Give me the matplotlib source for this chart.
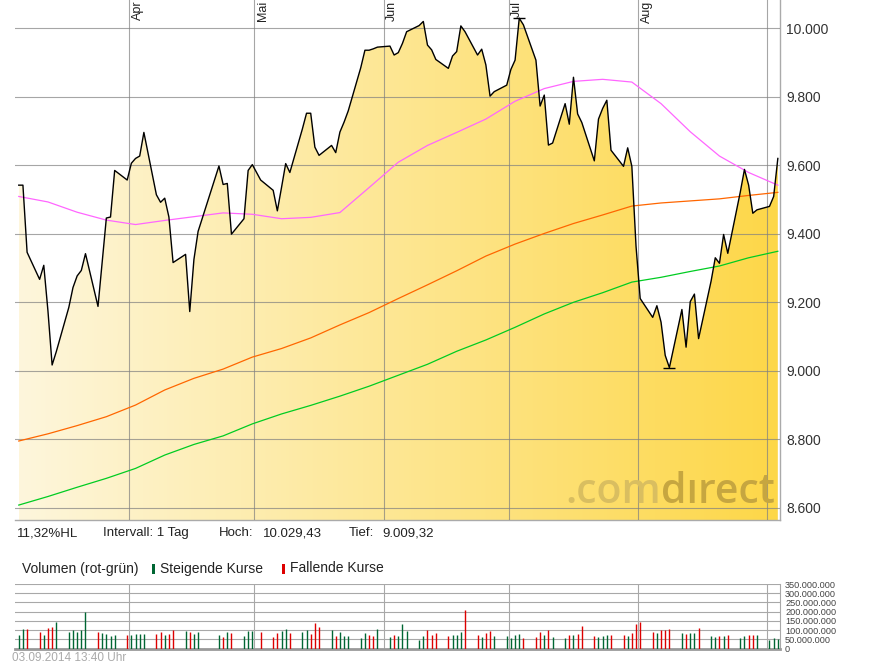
import numpy as np
import pandas as pd
import matplotlib
matplotlib.use('Agg')
import matplotlib.pyplot as plt
import matplotlib.dates as mdates
from matplotlib.colors import LinearSegmentedColormap
from matplotlib.patches import Rectangle

plt.rcParams['font.family'] = ['Liberation Sans', 'DejaVu Sans']

# trading days, Xetra 2014 (closed Apr 18, Apr 21, May 1)
holidays = pd.to_datetime(['2014-04-18', '2014-04-21', '2014-05-01'])
days = pd.bdate_range('2014-03-05', '2014-09-03')
days = days[~days.isin(holidays)]

# daily closes
close = [
    # Mar
    9542, 9542, 9346, 9267, 9308, 9175, 9017, 9056, 9185, 9243, 9277, 9293, 9342, 9188, 9318, 9446, 9449, 9585, 9557,
    # Apr
    9606, 9620, 9627, 9696, 9514, 9492, 9504, 9449, 9316, 9340, 9173, 9325, 9407, 9598, 9544, 9547, 9399, 9444, 9585, 9602,
    # May
    9557, 9527, 9467, 9535, 9605, 9579, 9706, 9752, 9752, 9653, 9629, 9658, 9637, 9697, 9726, 9759, 9885, 9936, 9936, 9940, 9945,
    # Jun
    9948, 9922, 9929, 9956, 9990, 10008, 10020, 9951, 9937, 9909, 9883, 9919, 9932, 10007, 9990, 9922, 9939, 9893, 9802, 9815, 9834,
    # Jul
    9880, 9907, 10029.43, 10010, 9907, 9773, 9805, 9659, 9665, 9780, 9720, 9857, 9750, 9725, 9613, 9735, 9766, 9790, 9644, 9597, 9651, 9597, 9364,
    # Aug
    9211, 9156, 9190, 9142, 9045, 9009.32, 9179, 9069, 9202, 9224, 9094, 9262, 9330, 9314, 9398, 9343, 9522, 9588, 9542, 9460, 9470,
    # Sep
    9480, 9509, 9620,
]

# volume in millions
volume = [
    74, 106, 106, 92, 74, 114, 119, 146, 92, 101, 92, 101, 200, 92, 83, 79, 69, 74, 74,
    74, 79, 79, 79, 79, 92, 74, 79, 101, 97, 92, 79, 90, 74, 63, 90, 83, 69, 96, 96,
    92, 63, 87, 97, 108, 83, 92, 101, 79, 139, 117, 101, 69, 90, 69, 69, 58, 83, 74, 69, 106,
    63, 74, 69, 134, 97, 47, 69, 101, 74, 85, 69, 74, 74, 90, 209, 74, 63, 85, 96, 69, 69,
    58, 74, 79, 58, 63, 90, 74, 101, 63, 58, 74, 74, 79, 123, 69, 63, 69, 74, 74, 74, 69, 85, 134,
    144, 90, 85, 101, 101, 106, 85, 79, 85, 85, 112, 69, 63, 69, 69, 74, 58, 69, 74, 74, 74,
    47, 58, 52,
]
vol_dir = ("ggr rgrrg ggggg rgggg r"
           "gggg rrgrr grgg grgr ggg"
           "r rrggr ggrrr grggg ggrrg"
           "grggg ggrrr rgggr rgrrg g"
           "gggr rrgrg grgrr rgggr rgrr"
           "r rgrrr grggr ggrgr ggrrg"
           "ggg").replace(" ", "")

# moving averages, sampled weekly
ma_dates = pd.date_range('2014-03-05', '2014-09-03', freq='7D')
ma38 = [9509, 9493, 9463, 9440, 9427, 9439, 9450, 9461, 9457, 9444, 9448, 9462, 9535, 9609,
        9658, 9696, 9735, 9787, 9824, 9845, 9851, 9843, 9780, 9698, 9627, 9579, 9542]
ma100 = [8795, 8816, 8840, 8866, 8900, 8944, 8978, 9005, 9040, 9065, 9096, 9134, 9170, 9211,
         9251, 9292, 9335, 9370, 9401, 9430, 9455, 9481, 9490, 9496, 9502, 9512, 9521]
ma200 = [8608, 8633, 8660, 8686, 8715, 8754, 8785, 8810, 8845, 8874, 8899, 8926, 8955, 8987,
         9019, 9057, 9090, 9127, 9166, 9200, 9228, 9259, 9273, 9290, 9306, 9330, 9349]

months = pd.to_datetime(['2014-04-01', '2014-05-01', '2014-06-01', '2014-07-01', '2014-08-01', '2014-09-01'])
month_labels = ['Apr', 'Mai', 'Jun', 'Jul', 'Aug']
price_ticks = np.arange(8600, 10001, 200)
vol_ticks = np.arange(0, 351, 50)

W, H = 895, 669
fig = plt.figure(figsize=(W / 100, H / 100), dpi=100)
ax = fig.add_axes([15 / W, 1 - 520 / H, 764.5 / W, 520 / H])
vx = fig.add_axes([15 / W, 1 - 648.7 / H, 764.5 / W, 64.7 / H])

x = days + pd.Timedelta(hours=12)
mx = ma_dates + pd.Timedelta(hours=12)
apr1 = pd.Timestamp('2014-04-01')
xlim = (apr1 - pd.Timedelta(days=27.4), apr1 + pd.Timedelta(days=155.9))
ymin, ymax = 8564.4, 10082.6

# gradient area under the price line
poly = ax.fill_between(x, close, ymin, color='none', lw=0)
cmap = LinearSegmentedColormap.from_list('fill', ['#fef6dc', '#fdd748'])
grad = np.linspace(0, 1, 256).reshape(1, -1)
im = ax.imshow(grad, cmap=cmap, aspect='auto', zorder=1,
               extent=[mdates.date2num(x[0]), mdates.date2num(x[-1]), ymin, ymax])
im.set_clip_path(poly.get_paths()[0], transform=ax.transData)

ax.plot(mx, ma200, color='#00cc22', lw=0.9, zorder=3)
ax.plot(mx, ma100, color='#ff6600', lw=0.9, zorder=3)
ax.plot(mx, ma38, color='#ff66ff', lw=0.9, zorder=3)
ax.plot(x, close, color='black', lw=1.0, zorder=4)

hi = int(np.argmax(close))
lo = int(np.argmin(close))
ax.plot([x[hi], x[lo]], [close[hi], close[lo]], ls='none', marker='_', ms=8, mew=1, color='black', zorder=5)

ax.set_xlim(xlim)
ax.set_ylim(ymin, ymax)
ax.set_xticks(months)
ax.set_yticks(price_ticks)
ax.set_yticklabels([f'{v:,.0f}'.replace(',', '.') for v in price_ticks])
ax.yaxis.tick_right()
ax.tick_params(axis='y', length=0, pad=5, labelsize=10, labelcolor='#333333')
ax.tick_params(axis='x', length=0, labelbottom=False)
ax.set_axisbelow(False)
ax.grid(True, color='#808080', alpha=0.7, lw=0.8)
for s in ['top', 'left']:
    ax.spines[s].set_visible(False)
for s in ['bottom', 'right']:
    ax.spines[s].set_color('#aaaaaa')
    ax.spines[s].set_linewidth(1)

for m, lab in zip(months, month_labels):
    ax.text(m + pd.Timedelta(days=0.6), 0.999, lab, transform=ax.get_xaxis_transform(),
            rotation=90, ha='left', va='top', fontsize=9, color='#222222')

# logo: fit ".comdırect" into 565..775 px
renderer = fig.canvas.get_renderer()
logo_font = dict(fontsize=36, fontweight='semibold', family=['Open Sans', 'DejaVu Sans'])
probe = fig.text(0, 0, '.comd\u0131rect', **logo_font)
scale = 210 / probe.get_window_extent(renderer).width
probe.remove()
logo_font['fontsize'] = 36 * scale
t_dir = fig.text(775 / W, 1 - 503 / H, 'd\u0131rect', ha='right', va='baseline',
                 color='#c6a640', **logo_font)
left_px = t_dir.get_window_extent(renderer).x0
fig.text(left_px / W, 1 - 503 / H, '.com', ha='right', va='baseline',
         color='#d9be60', **logo_font)

# volume panel
cols = ['#006633' if d == 'g' else '#dd0000' for d in vol_dir]
vx.vlines(x, 0, volume, colors=cols, lw=1.0, zorder=3)
vx.set_xlim(xlim)
vx.set_ylim(0, 350)
vx.set_xticks(months)
vx.set_yticks(vol_ticks)
vx.set_yticklabels([f'{v * 1000000:,.0f}'.replace(',', '.') for v in vol_ticks])
vx.yaxis.tick_right()
vx.tick_params(axis='y', length=0, pad=4, labelsize=6.6, labelcolor='#444444')
vx.tick_params(axis='x', length=0, labelbottom=False)
vx.grid(True, color='#a8a8a8', lw=0.8)
vx.set_axisbelow(True)
for s in ['top', 'left']:
    vx.spines[s].set_visible(False)
vx.spines['right'].set_color('#a8a8a8')
vx.spines['bottom'].set_color('#999999')
vx.spines['bottom'].set_linewidth(2)


def ftxt(px, py, s, **kw):
    fig.text(px / W, 1 - py / H, s, va='center', ha='left', **kw)


info = [(17, '11,32%HL'), (103, 'Intervall: 1 Tag'), (219, 'Hoch:'), (263, '10.029,43'),
        (349, 'Tief:'), (382, '9.009,32')]
for px, s in info:
    ftxt(px, 533, s, fontsize=9.5, color='#222222')

ftxt(21.7, 568.5, 'Volumen (rot-grün)', fontsize=10, color='#222222')
ftxt(160, 568.5, 'Steigende Kurse', fontsize=10, color='#222222')
ftxt(290, 568.5, 'Fallende Kurse', fontsize=10, color='#222222')
fig.add_artist(Rectangle((152 / W, 1 - 574 / H), 3 / W, 10 / H, transform=fig.transFigure,
                         color='#006633', lw=0))
fig.add_artist(Rectangle((282 / W, 1 - 574 / H), 3 / W, 10 / H, transform=fig.transFigure,
                         color='#dd0000', lw=0))

ftxt(12, 658, '03.09.2014 13:40 Uhr', fontsize=8.5, color='#aaaaaa')

fig.savefig('out.png', dpi=100)
